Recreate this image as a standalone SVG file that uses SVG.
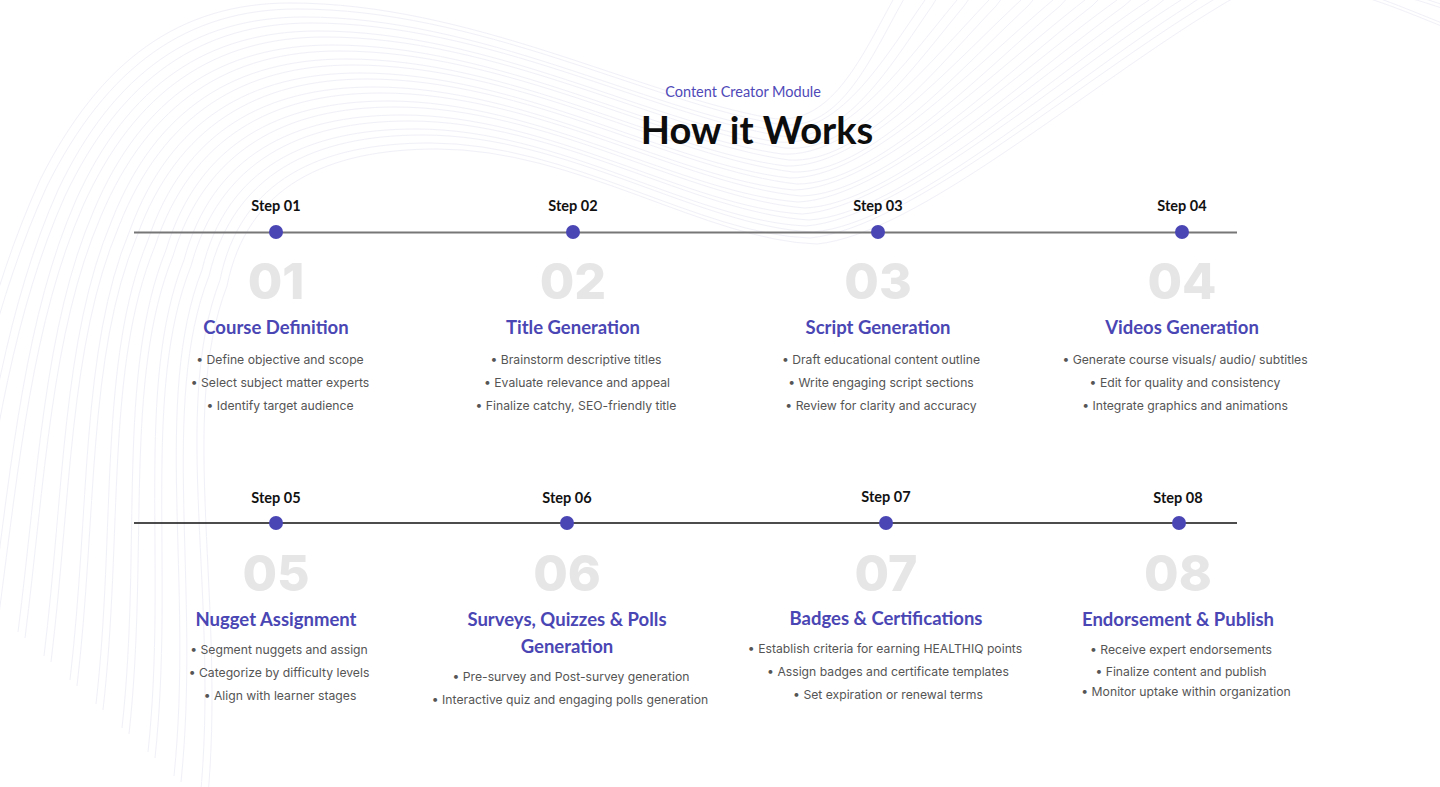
<svg xmlns="http://www.w3.org/2000/svg" xmlns:xlink="http://www.w3.org/1999/xlink" width="1440" height="787" viewBox="0 0 1440 787">
<style>
.wave{fill:none;stroke:#f0f0f8;stroke-width:1}
.eyebrow{font-family:Lato,"Noto Sans",sans-serif;font-size:14.5px;fill:#4f49b8;text-anchor:middle}
.h1{font-family:Lato,"Noto Sans",sans-serif;font-size:38px;font-weight:700;fill:#0d0d0d;text-anchor:middle}
.step{font-family:Lato,"Noto Sans",sans-serif;font-size:14.5px;font-weight:700;fill:#111;text-anchor:middle}
.num{font-family:Inter,"Noto Sans",sans-serif;font-size:50px;font-weight:800;fill:#e6e6e6;text-anchor:middle}
.title{font-family:Lato,"Noto Sans",sans-serif;font-size:18.5px;font-weight:700;fill:#4a46b4;text-anchor:middle}
.b{font-family:Inter,"Noto Sans",sans-serif;font-size:12.2px;fill:#555;text-anchor:middle}
.dot{fill:#4a46b4}
</style>
<rect width="1440" height="787" fill="#ffffff"/>
<g id="background">
<g id="waves" class="wave">
<path d="M-60,560 C-40,420 -10,290 40,180 C100,60 180,3 290,3 C470,3 640,95 770,118 C830,128 860,60 893,0 C950,-110 1300,-200 1500,-150"/>
<path d="M-34,584 C-14,438 8,302 58,190 C114,72 194,17 304,17 C480,17 646,109 774,130 C838,138 882,62 925,0 C984,-104 1308,-180 1496,-132"/>
<path d="M-8,608 C12,456 26,314 76,200 C128,84 208,31 318,31 C490,31 652,123 778,142 C846,148 904,64 957,0 C1018,-98 1316,-160 1492,-114"/>
<path d="M18,632 C38,474 44,326 94,210 C142,96 222,45 332,45 C500,45 658,137 782,154 C854,158 926,66 989,0 C1052,-92 1324,-140 1488,-96"/>
<path d="M44,656 C64,492 62,338 112,220 C156,108 236,59 346,59 C510,59 664,151 786,166 C862,168 948,68 1021,0 C1086,-86 1332,-120 1484,-78"/>
<path d="M70,680 C90,510 80,350 130,230 C170,120 250,73 360,73 C520,73 670,165 790,178 C870,178 970,70 1053,0 C1120,-80 1340,-100 1480,-60"/>
<path d="M96,704 C116,528 98,362 148,240 C184,132 264,87 374,87 C530,87 676,179 794,190 C878,188 992,72 1085,0 C1154,-74 1348,-80 1476,-42"/>
<path d="M122,728 C142,546 116,374 166,250 C198,144 278,101 388,101 C540,101 682,193 798,202 C886,198 1014,74 1117,0 C1188,-68 1356,-60 1472,-24"/>
<path d="M148,752 C168,564 134,386 184,260 C212,156 292,115 402,115 C550,115 688,207 802,214 C894,208 1036,76 1149,0 C1222,-62 1364,-40 1468,-6"/>
<path d="M174,776 C194,582 152,398 202,270 C226,168 306,129 416,129 C560,129 694,221 806,226 C902,218 1058,78 1181,0 C1256,-56 1372,-20 1464,12"/>
<path d="M200,800 C220,600 170,410 220,280 C240,180 320,143 430,143 C570,143 700,235 810,238 C910,228 1080,80 1213,0 C1290,-50 1380,0 1460,30"/>
</g>
<use xlink:href="#waves" href="#waves" transform="translate(7,6)"/>
</g>

<g id="header">
<text class="eyebrow" x="743" y="97">Content Creator Module</text>
<text class="h1" x="757" y="144">How it Works</text>
</g>

<g id="connectors">
<line x1="134" y1="232.5" x2="1237" y2="232.5" stroke="#777777" stroke-width="2"/>
<line x1="134" y1="523" x2="1237" y2="523" stroke="#111111" stroke-width="1.4"/>
</g>

<g id="step1">
<text class="step" x="276" y="211">Step 01</text>
<circle class="dot" cx="276" cy="232" r="7"/>
<text class="num" x="276" y="299">01</text>
<text class="title" x="276" y="334">Course Definition</text>
<text class="b" x="280" y="364">• Define objective and scope</text>
<text class="b" x="280" y="387">• Select subject matter experts</text>
<text class="b" x="280" y="410">• Identify target audience</text>
</g>

<g id="step2">
<text class="step" x="573" y="211">Step 02</text>
<circle class="dot" cx="573" cy="232" r="7"/>
<text class="num" x="573" y="299">02</text>
<text class="title" x="573" y="334">Title Generation</text>
<text class="b" x="576" y="364">• Brainstorm descriptive titles</text>
<text class="b" x="577" y="387">• Evaluate relevance and appeal</text>
<text class="b" x="576" y="410">• Finalize catchy, SEO-friendly title</text>
</g>

<g id="step3">
<text class="step" x="878" y="211">Step 03</text>
<circle class="dot" cx="878" cy="232" r="7"/>
<text class="num" x="878" y="299">03</text>
<text class="title" x="878" y="334">Script Generation</text>
<text class="b" x="881" y="364">• Draft educational content outline</text>
<text class="b" x="881" y="387">• Write engaging script sections</text>
<text class="b" x="881" y="410">• Review for clarity and accuracy</text>
</g>

<g id="step4">
<text class="step" x="1182" y="211">Step 04</text>
<circle class="dot" cx="1182" cy="232" r="7"/>
<text class="num" x="1182" y="299">04</text>
<text class="title" x="1182" y="334">Videos Generation</text>
<text class="b" x="1185" y="364">• Generate course visuals/ audio/ subtitles</text>
<text class="b" x="1185" y="387">• Edit for quality and consistency</text>
<text class="b" x="1185" y="410">• Integrate graphics and animations</text>
</g>

<g id="step5">
<text class="step" x="276" y="503">Step 05</text>
<circle class="dot" cx="276" cy="523" r="7"/>
<text class="num" x="276" y="591">05</text>
<text class="title" x="276" y="626">Nugget Assignment</text>
<text class="b" x="279" y="654">• Segment nuggets and assign</text>
<text class="b" x="279" y="677">• Categorize by difficulty levels</text>
<text class="b" x="280" y="700">• Align with learner stages</text>
</g>

<g id="step6">
<text class="step" x="567" y="503">Step 06</text>
<circle class="dot" cx="567" cy="523" r="7"/>
<text class="num" x="567" y="591">06</text>
<text class="title" x="567" y="626">Surveys, Quizzes &amp; Polls</text>
<text class="title" x="567" y="653">Generation</text>
<text class="b" x="571" y="681">• Pre-survey and Post-survey generation</text>
<text class="b" x="570" y="704">• Interactive quiz and engaging polls generation</text>
</g>

<g id="step7">
<text class="step" x="886" y="502">Step 07</text>
<circle class="dot" cx="886" cy="523" r="7"/>
<text class="num" x="886" y="591">07</text>
<text class="title" x="886" y="625">Badges &amp; Certifications</text>
<text class="b" x="885" y="653">• Establish criteria for earning HEALTHIQ points</text>
<text class="b" x="888" y="676">• Assign badges and certificate templates</text>
<text class="b" x="888" y="699">• Set expiration or renewal terms</text>
</g>

<g id="step8">
<text class="step" x="1178" y="503">Step 08</text>
<circle class="dot" cx="1179" cy="523" r="7"/>
<text class="num" x="1178" y="591">08</text>
<text class="title" x="1178" y="626">Endorsement &amp; Publish</text>
<text class="b" x="1181" y="654">• Receive expert endorsements</text>
<text class="b" x="1181" y="676">• Finalize content and publish</text>
<text class="b" x="1186" y="696">• Monitor uptake within organization</text>
</g>
</svg>
